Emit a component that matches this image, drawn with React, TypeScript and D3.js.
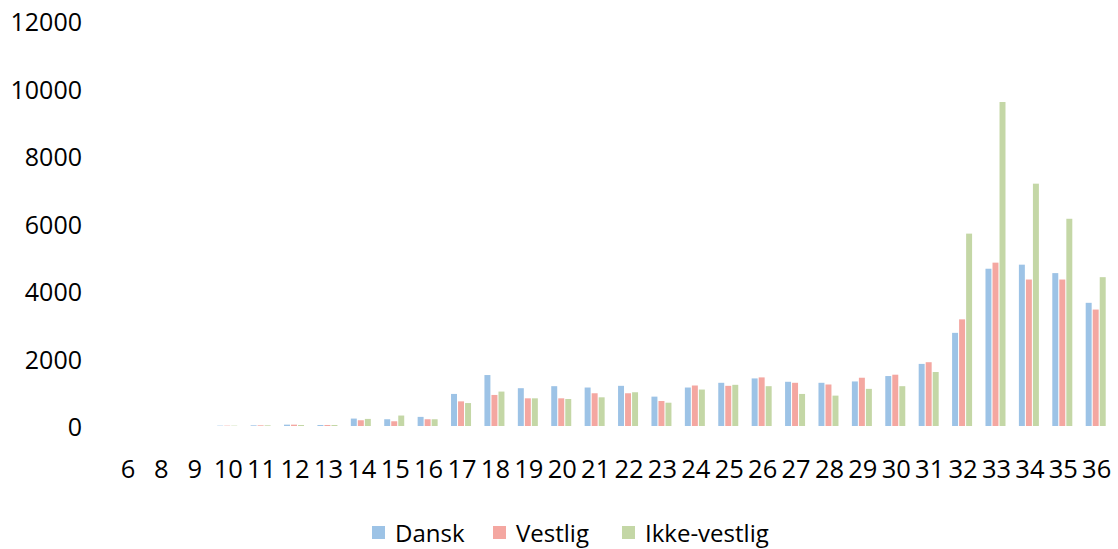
import React from "react";
import * as d3 from "d3";

const categories = ["6","8","9","10","11","12","13","14","15","16","17","18","19","20","21","22","23","24","25","26","27","28","29","30","31","32","33","34","35","36"];
const dansk =       [0,0,0,10,20,40,30,220,200,270,950,1510,1120,1180,1140,1190,870,1140,1280,1410,1310,1280,1320,1480,1840,2760,4660,4780,4530,3650];
const vestlig =     [0,0,0,10,20,40,30,170,140,200,730,920,820,820,970,970,740,1200,1190,1440,1280,1230,1430,1520,1890,3160,4840,4340,4340,3450];
const ikkeVestlig = [0,0,0,10,20,30,30,210,310,200,680,1020,820,800,850,1000,690,1080,1220,1180,950,900,1100,1180,1600,5700,9600,7180,6140,4410];
const seriesNames = ["Dansk", "Vestlig", "Ikke-vestlig"];
const yTicks = [0, 2000, 4000, 6000, 8000, 10000, 12000];

const colors = ["#9DC3E6", "#F4A7A1", "#C4D7A6"];

export default function App() {
  const W = 1118, H = 549;
  const x0 = 111.3, x1 = 1113.4;
  const yZero = 426, yTop = 21;
  const x = d3.scaleBand<string>().domain(categories).range([x0, x1]).padding(0);
  const y = d3.scaleLinear().domain([0, 12000]).range([yZero, yTop]);
  const inner = d3.scaleBand<string>().domain(seriesNames).range([0, 20]).paddingInner(0.15);
  const data = [dansk, vestlig, ikkeVestlig];
  const font = "'Open Sans', 'Noto Sans', sans-serif";
  const legendX = [372, 493, 622];

  return (
    <svg width={W} height={H} style={{ position: "absolute", left: 0, top: 0, background: "#fff" }} fontFamily={font}>
      <rect x={0} y={0} width={W} height={H} fill="#fff" />
      {yTicks.map((t) => (
        <text key={t} x={82} y={y(t)} textAnchor="end" dominantBaseline="central" fontSize={25} fill="#000">
          {t}
        </text>
      ))}
      {categories.map((c) => (
        <text key={c} x={x(c)! + x.bandwidth() / 2} y={468} textAnchor="middle" dominantBaseline="central" fontSize={25.5} fill="#000">
          {c}
        </text>
      ))}
      {data.map((vals, si) => (
        <g key={si} fill={colors[si]}>
          {vals.map((v, i) => {
            const cx = x(categories[i])! + x.bandwidth() / 2 - 11;
            const bx = cx + inner(seriesNames[si])!;
            return <rect key={i} x={bx} y={y(v)} width={inner.bandwidth()} height={y(0) - y(v)} />;
          })}
        </g>
      ))}
      {seriesNames.map((s, i) => (
        <g key={s}>
          <rect x={legendX[i]} y={526} width={13} height={13} fill={colors[i]} />
          <text x={legendX[i] + 23} y={532} dominantBaseline="central" fontSize={24} fill="#000">{s}</text>
        </g>
      ))}
    </svg>
  );
}
